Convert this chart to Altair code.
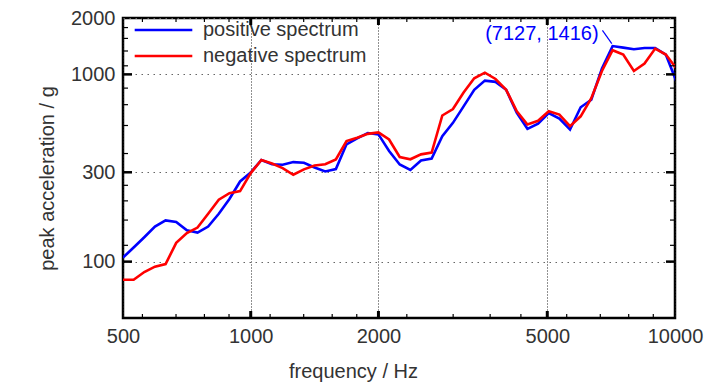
import altair as alt
import pandas as pd

# 1/12-octave frequency points (Hz)
freq = [500, 529.7, 561.2, 594.6, 630.0, 667.4, 707.1, 749.2, 793.7, 840.9, 890.9, 943.9,
        1000, 1059.5, 1122.5, 1189.2, 1259.9, 1334.8, 1414.2, 1498.3, 1587.4, 1681.8, 1781.8, 1887.7,
        2000, 2118.9, 2244.9, 2378.4, 2519.8, 2669.7, 2828.4, 2996.6, 3174.8, 3363.6, 3563.6, 3775.5,
        4000, 4237.9, 4489.8, 4756.8, 5039.7, 5339.4, 5656.9, 5993.2, 6349.6, 6727.2, 7127.2, 7551.0,
        8000, 8475.7, 8979.7, 9513.7, 10079.4]

positive = [105, 119, 135, 154, 166, 163, 147, 143, 154, 180, 216, 268,
            299, 349, 331, 329, 340, 337, 318, 303, 312, 423, 455, 486,
            478, 390, 330, 309, 347, 355, 468, 551, 675, 827, 926, 912,
            827, 622, 512, 545, 622, 581, 508, 667, 732, 1076, 1416, 1390,
            1362, 1384, 1384, 1276, 915]

negative = [80, 80, 88, 94, 97, 126, 142, 152, 180, 214, 232, 238,
            297, 349, 334, 316, 291, 311, 326, 331, 351, 440, 459, 481,
            490, 449, 362, 352, 374, 382, 603, 653, 800, 953, 1021, 945,
            827, 635, 540, 565, 635, 610, 529, 597, 746, 1042, 1346, 1276,
            1042, 1143, 1373, 1276, 1076]

series_names = ["positive spectrum", "negative spectrum"]
series_colors = ["#0000ff", "#ff0000"]

x_labels = [500, 1000, 2000, 5000, 10000]
y_labels = [100, 300, 1000, 2000]
x_major = [1000, 2000, 5000]
x_minor = [555.6, 666.7, 777.8, 888.9, 1111, 1333, 1556, 1778,
           2333, 3000, 3667, 4333, 5556, 6667, 7778, 8889]
y_major = [100, 300, 1000]
y_minor = [122.2, 166.7, 211.1, 255.6, 377.8, 533.3, 688.9, 844.4,
           1111, 1333, 1556, 1778]

peak_index = 46
leader_x = [6745, 7096]
leader_y = [1718, 1459]

FONT = "Liberation Sans, Arial, sans-serif"
TEXT = "#333333"
W, H = 552, 300

xscale = alt.Scale(type="log", domain=[500, 10000], nice=False)
yscale = alt.Scale(type="log", domain=[50, 2000], nice=False)

x_axis = alt.Axis(
    values=x_labels, format="d", title="frequency / Hz", grid=True,
    gridDash=[1, 2], gridColor="#222222", gridWidth=1, ticks=False, domain=False,
    labelFont=FONT, labelFontSize=20, labelColor=TEXT, labelPadding=8,
    labelFlush=False, labelOverlap=False,
    titleFont=FONT, titleFontSize=20, titleColor=TEXT, titleFontWeight="normal",
    titleX=230, titleY=53, titleBaseline="middle", titleAlign="center")
y_axis = alt.Axis(
    values=y_labels, format="d", title="peak acceleration / g", grid=True,
    gridDash=[1.5, 4.5], gridColor="#666666", gridWidth=1, ticks=False, domain=False,
    labelFont=FONT, labelFontSize=20, labelColor=TEXT, labelPadding=8,
    labelOverlap=False,
    titleFont=FONT, titleFontSize=20, titleColor=TEXT, titleFontWeight="normal",
    titleX=-76, titleY=160, titleBaseline="middle", titleAlign="center")


def X(field):
    return alt.X(field, scale=xscale, axis=x_axis, title="frequency / Hz")


def Y(field):
    return alt.Y(field, scale=yscale, axis=y_axis, title="peak acceleration / g")


df = pd.DataFrame({
    "frequency": freq + freq,
    "accel": positive + negative,
    "series": [series_names[0]] * len(freq) + [series_names[1]] * len(freq),
})

lines = alt.Chart(df).mark_line(strokeWidth=2.6, clip=True).encode(
    x=X("frequency:Q"),
    y=Y("accel:Q"),
    color=alt.Color("series:N", scale=alt.Scale(domain=series_names, range=series_colors),
                    sort=series_names,
                    legend=alt.Legend(orient="none", legendX=10, legendY=0, title=None,
                                      symbolType="stroke", symbolSize=3318,
                                      symbolStrokeWidth=2.6, labelFont=FONT,
                                      labelFontSize=20, labelColor=TEXT, labelOffset=9,
                                      labelLimit=400, clipHeight=24, rowPadding=2,
                                      padding=0)),
)


def xticks(vals, length, width, top):
    d = pd.DataFrame({"frequency": vals})
    if top:
        yy, yy2 = alt.value(0), alt.value(length)
    else:
        yy, yy2 = alt.value(H), alt.value(H - length)
    return alt.Chart(d).mark_rule(color="black", strokeWidth=width).encode(
        x=X("frequency:Q"), y=yy, y2=yy2)


def yticks(vals, length, width, right):
    d = pd.DataFrame({"accel": vals})
    if right:
        xx, xx2 = alt.value(W - length), alt.value(W)
    else:
        xx, xx2 = alt.value(0), alt.value(length)
    return alt.Chart(d).mark_rule(color="black", strokeWidth=width).encode(
        y=Y("accel:Q"), x=xx, x2=xx2)


tick_layers = [
    xticks(x_major, 7, 3, False), xticks(x_minor, 4, 1.2, False),
    xticks(x_major, 7, 3, True), xticks(x_minor, 4, 1.2, True),
    yticks(y_major, 9, 2.5, False), yticks(y_minor, 5, 1.2, False),
    yticks(y_major, 9, 2.5, True), yticks(y_minor, 5, 1.2, True),
]

ann_df = pd.DataFrame({
    "frequency": [freq[peak_index]],
    "accel": [positive[peak_index]],
    "label": [f"({freq[peak_index]:.0f}, {positive[peak_index]})"],
})
annotation = alt.Chart(ann_df).mark_text(
    align="right", baseline="middle", dx=-14, dy=-12, font=FONT, fontSize=20,
    color="#0000ff").encode(x=X("frequency:Q"), y=Y("accel:Q"), text="label:N")

leader_df = pd.DataFrame({"frequency": leader_x, "accel": leader_y})
leader = alt.Chart(leader_df).mark_line(color="#0000ff", strokeWidth=1.2).encode(
    x=X("frequency:Q"), y=Y("accel:Q"))

chart = alt.layer(lines, *tick_layers, annotation, leader).properties(
    width=W, height=H,
    autosize="none",
    padding={"left": 115, "top": 10, "right": 45, "bottom": 66},
    background="white",
).configure_view(stroke="black", strokeWidth=2.5)

chart.save("out.html", embed_options={"renderer": "svg", "actions": False})
